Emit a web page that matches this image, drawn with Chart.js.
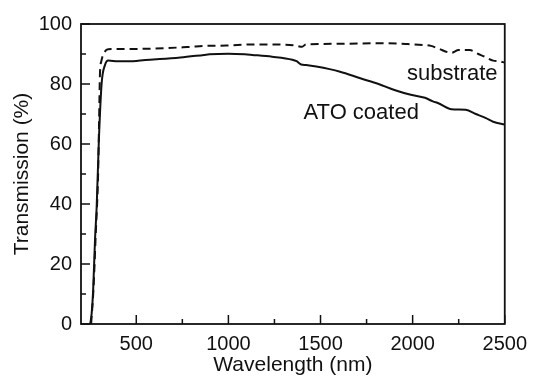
<!DOCTYPE html>
<html>
<head>
<meta charset="utf-8">
<script src="https://cdn.jsdelivr.net/npm/chart.js@4/dist/chart.umd.min.js"></script>
<style>
  html, body { margin: 0; padding: 0; background: #fff; }
  #wrap { width: 535px; height: 379px; }
</style>
</head>
<body>
<div id="wrap"><canvas id="myChart" width="535" height="379"></canvas></div>
<script>
// ATO coated glass (solid line)
const coatedWl = [250, 258, 266, 276, 285, 297, 312, 330, 348, 400, 500, 592, 627, 739, 868, 897, 1000, 1089, 1129, 1237, 1347, 1370, 1395, 1422, 1477, 1606, 1716, 1815, 1901, 1990, 2067, 2110, 2140, 2211, 2288, 2343, 2398, 2437, 2500];
const coatedT  = [0, 3.6, 11.3, 28, 39, 61.3, 80.2, 86.3, 87.8, 87.6, 87.7, 88.2, 88.3, 88.8, 89.7, 89.9, 90.1, 89.9, 89.7, 89.1, 88.1, 87.6, 86.5, 86.3, 85.8, 84.1, 81.9, 80.0, 78.0, 76.4, 75.4, 74.2, 73.6, 71.6, 71.4, 70.0, 68.6, 67.4, 66.5];

// substrate (dashed line)
const substrateWl = [255, 268, 280, 293, 298, 303, 310, 320, 347, 500, 776, 879, 988, 1129, 1237, 1366, 1400, 1420, 1606, 1815, 1974, 2060, 2100, 2140, 2211, 2250, 2310, 2356, 2392, 2437, 2470, 2500];
const substrateT  = [0, 12, 30, 50.2, 67, 83.6, 87.5, 89.7, 91.6, 91.7, 92.3, 92.7, 92.8, 93.2, 93.2, 92.8, 92.4, 93.2, 93.4, 93.6, 93.3, 93.0, 92.7, 91.8, 90.4, 91.3, 91.3, 90.0, 89.1, 87.8, 87.6, 87.1];

// tick values
const xTicks = [500, 1000, 1500, 2000, 2500];
const xMinor = [750, 1250, 1750, 2250];
const yTicks = [0, 20, 40, 60, 80, 100];
const yMinor = [10, 30, 50, 70, 90];

// curve labels
const labels = [
  { text: 'substrate', x: 2215, y: 81.3 },
  { text: 'ATO coated', x: 1721, y: 68.2 }
];

const FONT = '"Liberation Sans", Arial, Helvetica, sans-serif';

function toPoints(xs, ys) {
  return xs.map((x, i) => ({ x: x, y: ys[i] }));
}

// frame, inward ticks and text labels
const framePlugin = {
  id: 'frame',
  afterDraw(chart) {
    const ctx = chart.ctx;
    const a = chart.chartArea;
    const xs = chart.scales.x;
    const ys = chart.scales.y;
    ctx.save();
    ctx.strokeStyle = '#111';
    ctx.lineWidth = 1.8;
    ctx.strokeRect(a.left, a.top, a.right - a.left, a.bottom - a.top);

    ctx.lineWidth = 1.5;
    ctx.beginPath();
    xTicks.forEach(v => {
      const p = xs.getPixelForValue(v);
      ctx.moveTo(p, a.bottom); ctx.lineTo(p, a.bottom - 9);
    });
    xMinor.forEach(v => {
      const p = xs.getPixelForValue(v);
      ctx.moveTo(p, a.bottom); ctx.lineTo(p, a.bottom - 5);
    });
    yTicks.forEach(v => {
      const p = ys.getPixelForValue(v);
      ctx.moveTo(a.left, p); ctx.lineTo(a.left + 9, p);
    });
    yMinor.forEach(v => {
      const p = ys.getPixelForValue(v);
      ctx.moveTo(a.left, p); ctx.lineTo(a.left + 5, p);
    });
    ctx.stroke();

    ctx.fillStyle = '#111';
    ctx.font = '22px ' + FONT;
    ctx.textAlign = 'center';
    ctx.textBaseline = 'alphabetic';
    labels.forEach(l => {
      ctx.fillText(l.text, xs.getPixelForValue(l.x), ys.getPixelForValue(l.y));
    });
    ctx.restore();
  }
};

new Chart(document.getElementById('myChart'), {
  type: 'line',
  data: {
    datasets: [
      {
        label: 'ATO coated',
        data: toPoints(coatedWl, coatedT),
        borderColor: '#111',
        borderWidth: 2,
        pointRadius: 0,
        cubicInterpolationMode: 'monotone',
        fill: false
      },
      {
        label: 'substrate',
        data: toPoints(substrateWl, substrateT),
        borderColor: '#111',
        borderWidth: 2,
        borderDash: [8, 5],
        pointRadius: 0,
        cubicInterpolationMode: 'monotone',
        fill: false
      }
    ]
  },
  options: {
    responsive: false,
    animation: false,
    events: [],
    layout: { padding: { top: 24, right: 28, left: 0, bottom: 0 } },
    plugins: {
      legend: { display: false },
      tooltip: { enabled: false }
    },
    scales: {
      x: {
        type: 'linear',
        min: 200,
        max: 2500,
        afterBuildTicks(scale) {
          scale.ticks = xTicks.map(v => ({ value: v }));
        },
        afterFit(scale) { scale.height = 55; },
        grid: { display: false, drawTicks: false },
        border: { display: false },
        ticks: {
          color: '#111',
          padding: 8,
          maxRotation: 0,
          font: { family: FONT, size: 20 },
          callback: v => String(v)
        },
        title: {
          display: true,
          text: 'Wavelength (nm)',
          color: '#111',
          padding: { top: 0, bottom: 1 },
          font: { family: FONT, size: 21 }
        }
      },
      y: {
        min: 0,
        max: 100,
        afterBuildTicks(scale) {
          scale.ticks = yTicks.map(v => ({ value: v }));
        },
        afterFit(scale) { scale.width = 81; },
        grid: { display: false, drawTicks: false },
        border: { display: false },
        ticks: {
          color: '#111',
          padding: 9,
          font: { family: FONT, size: 20 },
          callback: v => String(v)
        },
        title: {
          display: true,
          text: 'Transmission (%)',
          color: '#111',
          padding: { top: 10, bottom: 0 },
          font: { family: FONT, size: 21 }
        }
      }
    }
  },
  plugins: [framePlugin]
});
</script>
</body>
</html>
